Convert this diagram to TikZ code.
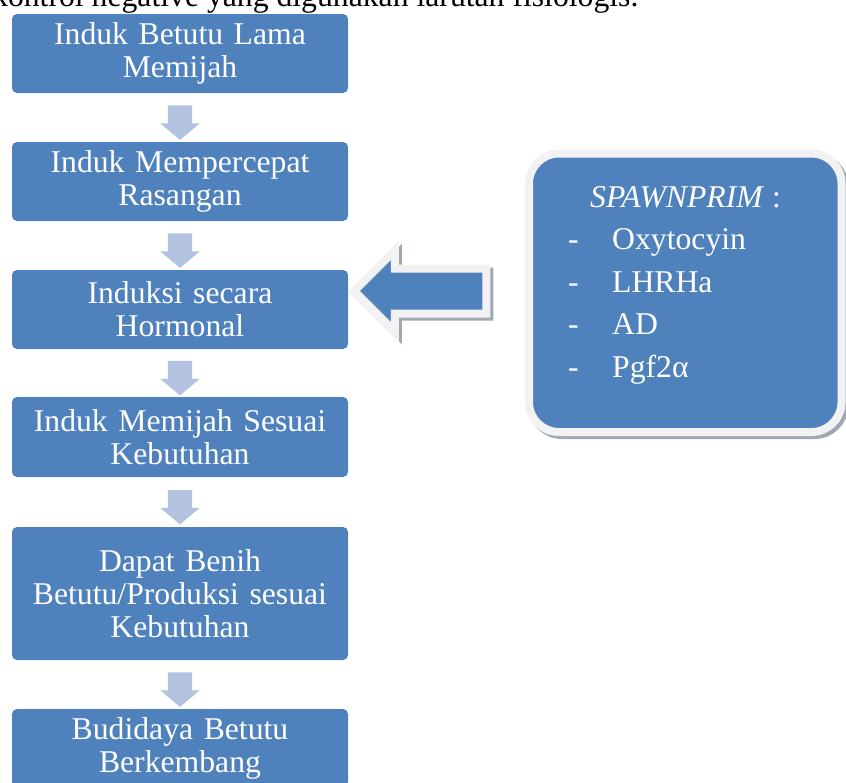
\documentclass[tikz,border=0pt]{standalone}
\usepackage{fontspec}
\setmainfont{Liberation Serif}
\usetikzlibrary{shapes.arrows,shadows,calc}

\definecolor{boxblue}{HTML}{4F81BD}
\definecolor{arrblue}{HTML}{B3C3DF}
\definecolor{rimgray}{HTML}{F2F2F2}
\definecolor{shadegray}{HTML}{A0A8B4}

\tikzset{
	flowbox/.style={fill=boxblue, rounded corners=5pt, text=white, minimum width=336pt,
		text width=330pt, align=center, inner sep=0pt, font=\fontsize{31.7}{33}\selectfont},
	flowarr/.style={single arrow, shape border rotate=270, fill=arrblue, minimum height=32pt,
		minimum width=39pt, single arrow head extend=7.5pt, single arrow tip angle=100, inner sep=12pt},
	notebox/.style={fill=boxblue, draw=rimgray, line width=8pt, rounded corners=30pt,
		minimum width=312.5pt, minimum height=278.5pt,
		drop shadow={shadow xshift=3pt, shadow yshift=-3pt, fill=shadegray, draw=shadegray, line width=8pt, opacity=1}},
	bigarr/.style={single arrow, shape border rotate=180, fill=boxblue, draw=rimgray, line width=8pt,
		minimum height=132pt, minimum width=74pt, single arrow head extend=18pt,
		single arrow tip angle=90, inner sep=18.5pt,
		drop shadow={shadow xshift=3pt, shadow yshift=-3pt, fill=shadegray, draw=shadegray, line width=8pt, opacity=1}}
}

\begin{document}
\begin{tikzpicture}[x=1pt,y=-1pt]
	\useasboundingbox (0,0) rectangle (846,782);
	\clip (0,0) rectangle (846,782);
	
	\node[anchor=base west, inner sep=0pt, font=\fontsize{31.7}{33}\selectfont] (prev) at (-8,6)
		{kontrol negative yang digunakan larutan fisiologis.};
	
	\node[flowbox, minimum height=79pt] (b1) at (180,53.5) {Induk Betutu Lama\\Memijah};
	\node[flowbox, minimum height=79pt] (b2) at (180,181.5) {Induk Mempercepat\\Rasangan};
	\node[flowbox, minimum height=79pt] (b3) at (180,309.5) {Induksi secara\\Hormonal};
	\node[flowbox, minimum height=80pt] (b4) at (180,437) {Induk Memijah Sesuai\\Kebutuhan};
	\node[flowbox, minimum height=133pt] (b5) at (180,593.5) {Dapat Benih\\Betutu/Produksi sesuai\\Kebutuhan};
	\node[flowbox, minimum height=78pt] (b6) at (180,748) {Budidaya Betutu\\Berkembang};
	
	\foreach \a/\b in {b1/b2,b2/b3,b3/b4,b4/b5,b5/b6}
		\node[flowarr] (arr-\a) at ($(\a.south)!0.5!(\b.north)$) {};
	
	\node[notebox] (spawn) at (685.25,292.75) {};
	\node[anchor=base west, inner sep=0pt, text=white, font=\fontsize{31.7}{42.5}\selectfont] (spawntxt) at (568,207)
		{\begin{tabular}[t]{@{}p{44pt}@{}l@{}}
			\multicolumn{2}{@{\hspace{22pt}}l@{}}{\textit{SPAWNPRIM} :}\\
			- & Oxytocyin\\
			- & LHRHa\\
			- & AD\\
			- & Pgf2α
		\end{tabular}};
	
	\node[bigarr] (hormarr) at (431.5,291) {};
\end{tikzpicture}
\end{document}
